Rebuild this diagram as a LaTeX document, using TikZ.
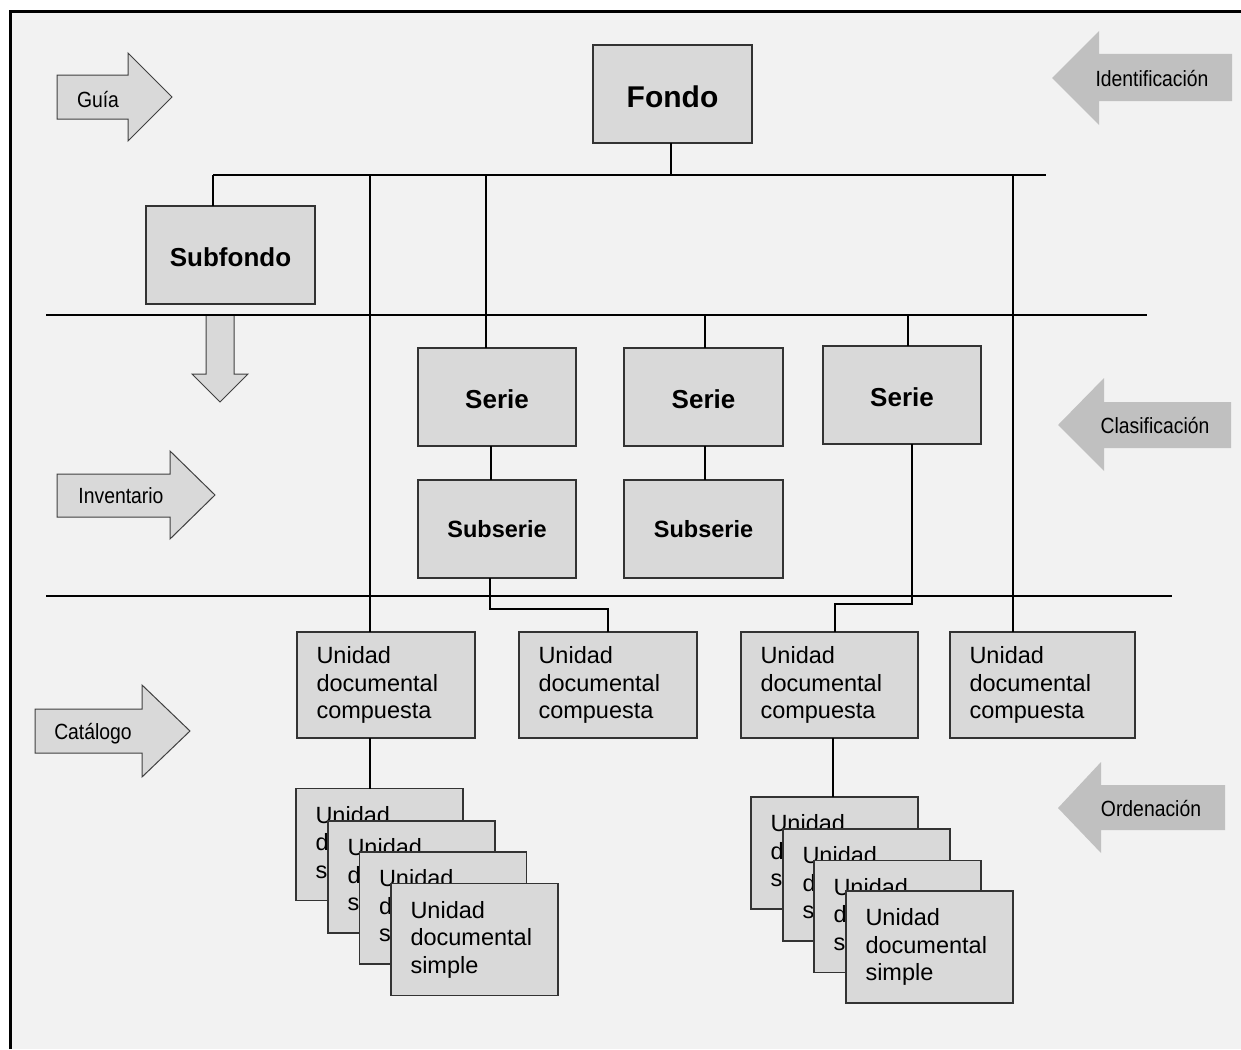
\documentclass[tikz,border=0pt]{standalone}
\usepackage{fontspec}
\setmainfont{Liberation Sans}
\newfontfamily\narrowsans[FakeStretch=0.88]{Liberation Sans}
\definecolor{panel}{HTML}{F2F2F2}
\definecolor{boxfill}{HTML}{D9D9D9}
\definecolor{tagfill}{HTML}{C0C0C0}
\begin{document}
\begin{tikzpicture}[x=1pt, y=-1pt,
  box/.style={draw=black!80, fill=boxfill, line width=1.3pt, inner sep=0pt, outer sep=0pt},
  titlebox/.style={box, font=\bfseries\fontsize{26}{30}\selectfont, text height=22.6pt, text depth=0pt},
  docbox/.style={box, align=left, inner xsep=19.5pt, font=\fontsize{23.5}{27.5}\selectfont},
  wire/.style={line width=1.8pt, black},
  rtag/.style={fill=boxfill, draw=black!75, line width=1pt},
  ltag/.style={fill=tagfill},
  tagtext/.style={font=\narrowsans\fontsize{22}{26}\selectfont, anchor=base, inner sep=0pt}]

% page and frame
\useasboundingbox (0,0) rectangle (1241,1049);
\fill[white] (0,0) rectangle (1241,1049);
\fill[panel] (10.5,11.7) rectangle (1241,1049);
\draw[line width=3.3pt] (10.5,1049) -- (10.5,11.7) -- (1241,11.7);

% level arrows on the left
\draw[rtag] (57,75) -- (128,75) -- (128,53) -- (172,97) -- (128,141) -- (128,119) -- (57,119) -- cycle;
\node[tagtext] (guia) at (98,107) {Guía};
\draw[rtag] (57,474) -- (170,474) -- (170,451) -- (215,495) -- (170,539) -- (170,517) -- (57,517) -- cycle;
\node[tagtext] (inventario) at (121,503) {Inventario};
\draw[rtag] (35,709) -- (142,709) -- (142,685) -- (190,731) -- (142,777) -- (142,753) -- (35,753) -- cycle;
\node[tagtext] (catalogo) at (93,739) {Catálogo};

% process arrows on the right
\fill[ltag] (1052,78) -- (1099,31) -- (1099,54) -- (1232,54) -- (1232,101) -- (1099,101) -- (1099,125) -- cycle;
\node[tagtext] (identificacion) at (1152,86) {Identificación};
\fill[ltag] (1058,425) -- (1104,378) -- (1104,402) -- (1231,402) -- (1231,448) -- (1104,448) -- (1104,471) -- cycle;
\node[tagtext] (clasificacion) at (1155,433) {Clasificación};
\fill[ltag] (1058,808) -- (1101,762) -- (1101,785) -- (1225,785) -- (1225,830) -- (1101,830) -- (1101,853) -- cycle;
\node[tagtext] (ordenacion) at (1151,816) {Ordenación};

% arrow below the subfondo
\draw[rtag] (206,315) -- (206,374) -- (192,374) -- (220,402) -- (248,374) -- (234,374) -- (234,315) -- cycle;

% level dividers
\coordinate (rowAl) at (46,315);
\coordinate (rowAr) at (1147,315);
\coordinate (rowBl) at (46,596);
\coordinate (rowBr) at (1172,596);
\draw[wire] (rowAl) -- (rowAr);
\draw[wire] (rowBl) -- (rowBr);

% boxes
\node[titlebox, minimum width=159pt, minimum height=98pt, font=\bfseries\fontsize{30}{34}\selectfont, text height=27.4pt] (fondo) at (672.5,94) {Fondo};
\node[titlebox, minimum width=169pt, minimum height=98pt] (subfondo) at (230.5,255) {Subfondo};
\node[titlebox, minimum width=158pt, minimum height=98pt] (serie1) at (497,397) {Serie};
\node[titlebox, minimum width=159pt, minimum height=98pt] (serie2) at (703.5,397) {Serie};
\node[titlebox, minimum width=158pt, minimum height=98pt] (serie3) at (902,395) {Serie};
\node[titlebox, minimum width=158pt, minimum height=98pt, font=\bfseries\fontsize{23.5}{28}\selectfont, text height=17.5pt] (subserie1) at (497,529) {Subserie};
\node[titlebox, minimum width=159pt, minimum height=98pt, font=\bfseries\fontsize{23.5}{28}\selectfont, text height=17.5pt] (subserie2) at (703.5,529) {Subserie};

\node[docbox, text width=139pt, minimum height=106pt] (udc1) at (386,685) {Unidad\\documental\\compuesta};
\node[docbox, text width=139pt, minimum height=106pt] (udc2) at (608,685) {Unidad\\documental\\compuesta};
\node[docbox, text width=138pt, minimum height=106pt] (udc3) at (829.5,685) {Unidad\\documental\\compuesta};
\node[docbox, text width=146pt, minimum height=106pt] (udc4) at (1042.5,685) {Unidad\\documental\\compuesta};

% stacked simple units
\foreach \n/\cx/\cy in {1/379.5/844.5, 2/411.5/877, 3/443/908, 4/474.5/939.5}
  \node[docbox, text width=128pt, minimum height=112pt] (s\n) at (\cx,\cy) {Unidad\\documental\\simple};
\foreach \n/\cx/\cy in {1/834.5/853, 2/866.5/885, 3/897.5/916.5, 4/929.5/947}
  \node[docbox, text width=128pt, minimum height=112pt] (r\n) at (\cx,\cy) {Unidad\\documental\\simple};

% connectors from the fondo
\coordinate (busL) at (213,175);
\coordinate (busR) at (1046,175);
\coordinate (dropA) at (370,175);
\coordinate (dropB) at (486,175);
\coordinate (dropC) at (1013,175);
\draw[wire] (busL) -- (busR);
\draw[wire] ([xshift=-1.5pt]fondo.south) -- ([xshift=-1.5pt]fondo.south |- busL);
\draw[wire] (busL) -- (busL |- subfondo.north);
\draw[wire] (dropA) -- (dropA |- udc1.north);
\draw[wire] (dropB) -- (dropB |- serie1.north);
\draw[wire] (dropC) -- (dropC |- udc4.north);

% connectors to the series
\draw[wire] ([xshift=1.5pt]serie2.north |- rowAl) -- ([xshift=1.5pt]serie2.north);
\draw[wire] ([xshift=6pt]serie3.north |- rowAl) -- ([xshift=6pt]serie3.north);
\draw[wire] ([xshift=-6pt]serie1.south) -- ([xshift=-6pt]subserie1.north);
\draw[wire] ([xshift=1.5pt]serie2.south) -- ([xshift=1.5pt]subserie2.north);

% connectors to the compound units
\coordinate (turnA) at (608,609);
\coordinate (turnB) at (835,604);
\draw[wire] ([xshift=-7pt]subserie1.south) |- (turnA) -- (udc2.north);
\draw[wire] ([xshift=10pt]serie3.south) |- (turnB) -- (turnB |- udc3.north);

% connectors to the simple units
\draw[wire] ([xshift=-16pt]udc1.south) -- ([xshift=-16pt]udc1.south |- s1.north);
\draw[wire] ([xshift=3.5pt]udc3.south) -- ([xshift=3.5pt]udc3.south |- r1.north);
\end{tikzpicture}
\end{document}
